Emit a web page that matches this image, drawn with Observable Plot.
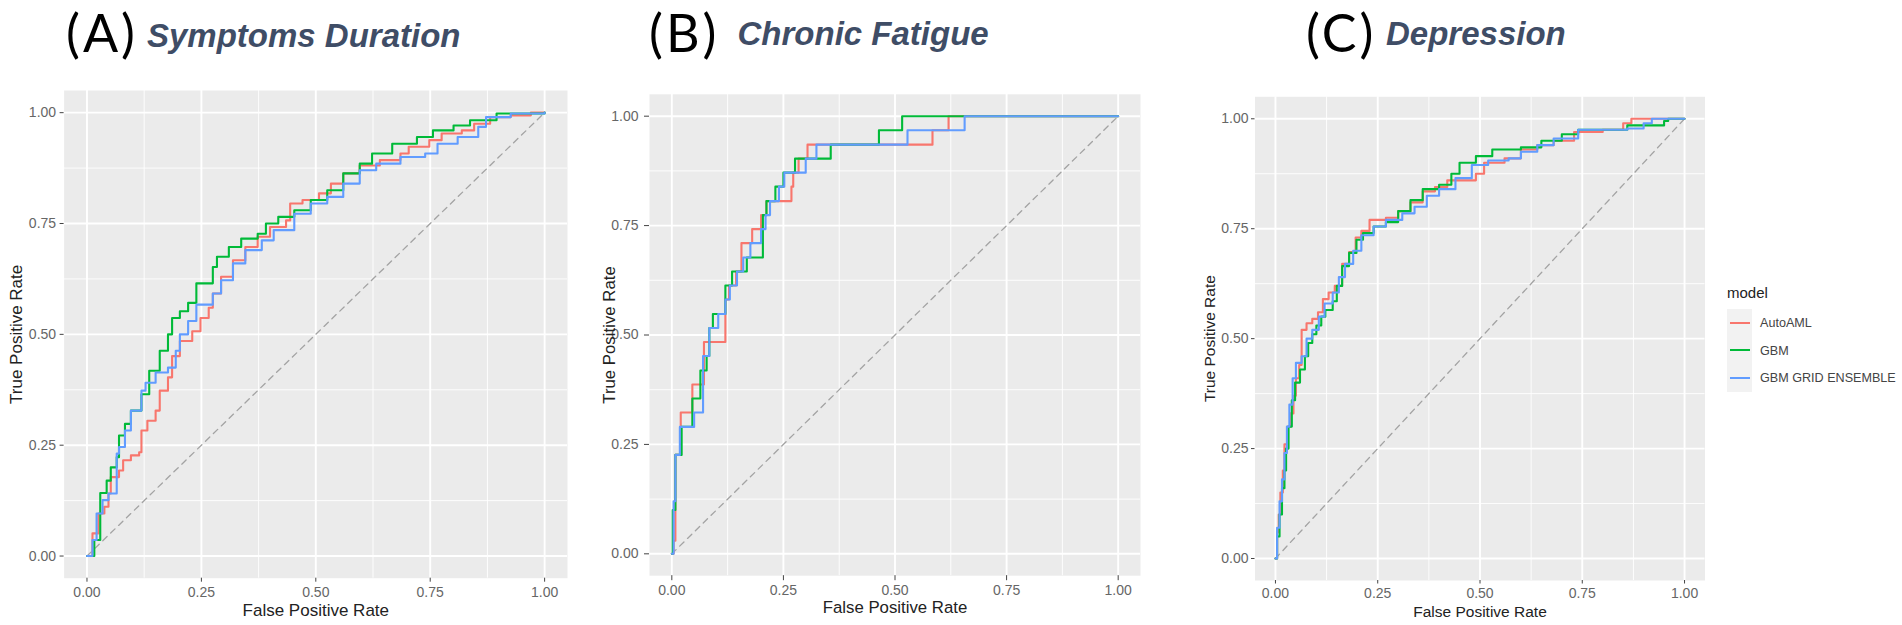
<!DOCTYPE html>
<html><head><meta charset="utf-8">
<script src="https://cdn.jsdelivr.net/npm/d3@7"></script>
<script src="https://cdn.jsdelivr.net/npm/@observablehq/plot@0.6"></script>
<style>
body{margin:0;width:1902px;height:625px;position:relative;background:#fff;overflow:hidden;font-family:"Liberation Sans",Arial,sans-serif}
.panel{position:absolute;top:80px}
.lab{position:absolute;font-family:Lato,"Open Sans",sans-serif;font-size:52px;line-height:1.2;color:#000;white-space:nowrap;letter-spacing:3px}
.nm{position:absolute;font-family:"Liberation Sans",Arial,sans-serif;font-weight:bold;font-style:italic;font-size:33px;line-height:1.2;color:#3f4d66;white-space:nowrap}
#legend{position:absolute;left:1727px;top:284px;font-family:"Liberation Sans",Arial,sans-serif}
#legend .lt{font-size:15px;line-height:18px;color:#222;height:25px}
#legend .row{position:relative;height:27.5px;width:180px}
#legend .key{position:absolute;left:0;top:0;width:25px;height:27.5px;background:#f2f2f2}
#legend .ln{position:absolute;left:3px;top:12.5px;width:20px;height:2.4px}
#legend .tx{position:absolute;left:33px;top:6px;font-size:12.6px;line-height:16px;color:#444;white-space:nowrap}
</style></head><body>
<div id="titles"></div>
<div id="pA" class="panel" style="left:0px"></div>
<div id="pB" class="panel" style="left:580px"></div>
<div id="pC" class="panel" style="left:1160px"></div>
<div id="legend"></div>
<script>
const models = ["AutoAML", "GBM", "GBM GRID ENSEMBLE"];
const modelColors = ["#F8766D", "#00BA38", "#619CFF"];
const majorTicks = [0, 0.25, 0.5, 0.75, 1];
const minorTicks = [0.125, 0.375, 0.625, 0.875];
const chanceLine = [0, 1];
const panelLetters = ["(A)", "(B)", "(C)"];
const panelTitles = ["Symptoms Duration", "Chronic Fatigue", "Depression"];
const xAxisTitle = "False Positive Rate";
const yAxisTitle = "True Positive Rate";
const legendTitle = "model";

// Panel A: Symptoms Duration  [FPR, TPR]
const symptomsAutoAML = [[0,0],[0.012,0.051],[0.025,0.096],[0.038,0.111],[0.047,0.141],[0.052,0.178],[0.07,0.193],[0.079,0.216],[0.096,0.227],[0.114,0.234],[0.119,0.283],[0.132,0.305],[0.15,0.328],[0.159,0.373],[0.177,0.403],[0.186,0.451],[0.203,0.485],[0.23,0.507],[0.248,0.537],[0.266,0.56],[0.275,0.592],[0.293,0.63],[0.319,0.667],[0.346,0.697],[0.373,0.72],[0.4,0.742],[0.435,0.757],[0.444,0.795],[0.471,0.803],[0.507,0.818],[0.533,0.84],[0.56,0.863],[0.596,0.881],[0.64,0.893],[0.685,0.908],[0.703,0.923],[0.748,0.938],[0.775,0.953],[0.819,0.96],[0.846,0.975],[0.881,0.99],[0.926,0.994],[0.97,1],[1,1]];
const symptomsGBM = [[0,0],[0.016,0.036],[0.029,0.142],[0.043,0.17],[0.052,0.2],[0.065,0.223],[0.07,0.272],[0.083,0.298],[0.096,0.328],[0.119,0.365],[0.136,0.418],[0.159,0.463],[0.177,0.5],[0.186,0.537],[0.203,0.552],[0.221,0.571],[0.239,0.615],[0.275,0.652],[0.284,0.675],[0.31,0.697],[0.337,0.716],[0.373,0.727],[0.391,0.75],[0.418,0.765],[0.453,0.78],[0.489,0.803],[0.525,0.825],[0.56,0.863],[0.596,0.885],[0.623,0.908],[0.667,0.93],[0.721,0.945],[0.756,0.96],[0.801,0.971],[0.837,0.983],[0.895,0.998],[1,1]];
const symptomsEnsemble = [[0,0],[0.012,0.036],[0.021,0.096],[0.034,0.126],[0.047,0.141],[0.065,0.231],[0.07,0.246],[0.083,0.283],[0.096,0.328],[0.119,0.373],[0.128,0.391],[0.15,0.414],[0.177,0.425],[0.194,0.463],[0.203,0.5],[0.221,0.53],[0.239,0.567],[0.275,0.592],[0.293,0.622],[0.319,0.66],[0.346,0.69],[0.382,0.712],[0.408,0.735],[0.453,0.772],[0.489,0.795],[0.525,0.81],[0.56,0.84],[0.596,0.87],[0.632,0.885],[0.685,0.9],[0.739,0.908],[0.766,0.93],[0.81,0.945],[0.855,0.968],[0.872,0.99],[0.926,0.998],[1,1]];

// Panel B: Chronic Fatigue  [FPR, TPR]
const fatigueAutoAML = [[0,0],[0.004,0.03],[0.008,0.226],[0.02,0.323],[0.046,0.387],[0.072,0.484],[0.12,0.581],[0.128,0.613],[0.144,0.645],[0.156,0.71],[0.18,0.742],[0.2,0.774],[0.212,0.806],[0.268,0.839],[0.272,0.871],[0.284,0.903],[0.304,0.935],[0.584,0.968],[0.62,1],[1,1]];
const fatigueGBM = [[0,0],[0.002,0.1],[0.008,0.226],[0.022,0.29],[0.046,0.355],[0.064,0.419],[0.078,0.452],[0.084,0.516],[0.092,0.548],[0.12,0.613],[0.135,0.645],[0.168,0.677],[0.204,0.774],[0.212,0.806],[0.232,0.839],[0.25,0.871],[0.276,0.903],[0.356,0.935],[0.464,0.968],[0.516,1],[1,1]];
const fatigueEnsemble = [[0,0],[0.004,0.12],[0.008,0.226],[0.018,0.29],[0.05,0.323],[0.07,0.452],[0.084,0.516],[0.104,0.548],[0.12,0.581],[0.13,0.613],[0.146,0.645],[0.16,0.677],[0.176,0.71],[0.2,0.742],[0.21,0.774],[0.22,0.806],[0.24,0.839],[0.252,0.871],[0.3,0.903],[0.324,0.935],[0.528,0.968],[0.656,1],[1,1]];

// Panel C: Depression  [FPR, TPR]
const depressionAutoAML = [[0,0],[0.004,0.06],[0.008,0.1],[0.012,0.15],[0.018,0.2],[0.022,0.26],[0.03,0.3],[0.036,0.33],[0.044,0.37],[0.05,0.41],[0.058,0.44],[0.064,0.52],[0.076,0.535],[0.09,0.545],[0.104,0.56],[0.116,0.59],[0.13,0.605],[0.145,0.62],[0.163,0.67],[0.18,0.697],[0.196,0.73],[0.21,0.745],[0.23,0.77],[0.27,0.775],[0.3,0.79],[0.33,0.81],[0.36,0.835],[0.39,0.845],[0.42,0.86],[0.46,0.86],[0.49,0.875],[0.51,0.9],[0.56,0.91],[0.6,0.93],[0.64,0.94],[0.68,0.95],[0.73,0.97],[0.8,0.975],[0.85,0.99],[0.87,1],[1,1]];
const depressionGBM = [[0,0],[0.004,0.05],[0.01,0.1],[0.016,0.16],[0.022,0.2],[0.026,0.25],[0.032,0.3],[0.04,0.36],[0.048,0.4],[0.06,0.43],[0.072,0.46],[0.08,0.49],[0.09,0.51],[0.1,0.53],[0.112,0.55],[0.122,0.565],[0.14,0.585],[0.15,0.62],[0.163,0.665],[0.18,0.695],[0.198,0.725],[0.214,0.74],[0.24,0.755],[0.27,0.765],[0.3,0.79],[0.33,0.815],[0.36,0.84],[0.4,0.85],[0.43,0.875],[0.45,0.9],[0.49,0.915],[0.53,0.93],[0.6,0.935],[0.65,0.95],[0.7,0.965],[0.74,0.975],[0.82,0.975],[0.86,0.985],[0.95,0.995],[0.96,1],[1,1]];
const depressionEnsemble = [[0,0],[0.004,0.07],[0.01,0.13],[0.016,0.18],[0.022,0.24],[0.028,0.3],[0.034,0.35],[0.042,0.41],[0.05,0.445],[0.064,0.46],[0.076,0.5],[0.09,0.52],[0.106,0.55],[0.12,0.58],[0.14,0.605],[0.155,0.64],[0.17,0.67],[0.19,0.7],[0.21,0.735],[0.24,0.755],[0.27,0.77],[0.31,0.785],[0.34,0.8],[0.37,0.825],[0.4,0.84],[0.44,0.865],[0.48,0.895],[0.52,0.905],[0.57,0.91],[0.6,0.925],[0.64,0.94],[0.68,0.955],[0.74,0.975],[0.8,0.975],[0.86,0.978],[0.9,0.99],[0.92,1],[1,1]];

function rows(series) {
  return models.flatMap((m, i) => series[i].map(([fpr, tpr]) => ({model: m, fpr, tpr})));
}

function panel(series, o) {
  return Plot.plot({
    width: o.width, height: 545,
    marginTop: o.mt, marginRight: o.mr, marginBottom: o.mb, marginLeft: o.ml,
    x: {domain: [-0.05, 1.05]},
    y: {domain: [-0.05, 1.05]},
    color: {domain: models, range: modelColors},
    style: {fontFamily: '"Liberation Sans", Arial, sans-serif', background: "transparent", overflow: "visible"},
    marks: [
      Plot.frame({fill: "#ebebeb", stroke: "none"}),
      Plot.gridX(minorTicks, {stroke: "#fff", strokeOpacity: 1, strokeWidth: 0.9}),
      Plot.gridY(minorTicks, {stroke: "#fff", strokeOpacity: 1, strokeWidth: 0.9}),
      Plot.gridX(majorTicks, {stroke: "#fff", strokeOpacity: 1, strokeWidth: 1.9}),
      Plot.gridY(majorTicks, {stroke: "#fff", strokeOpacity: 1, strokeWidth: 1.9}),
      Plot.axisX(majorTicks, {tickFormat: d3.format(".2f"), tickSize: o.ts, tickPadding: o.tpx, fontSize: 14, fill: "#666", stroke: "#444", label: null}),
      Plot.axisY(majorTicks, {tickFormat: d3.format(".2f"), tickSize: o.ts, tickPadding: o.tpy, fontSize: 14, fill: "#666", stroke: "#444", label: null}),
      Plot.line(chanceLine, {x: d => d, y: d => d, stroke: "#a3a3a3", strokeWidth: 1.3, strokeDasharray: "6,5"}),
      Plot.line(rows(series), {x: "fpr", y: "tpr", stroke: "model", strokeWidth: 2.1, curve: "step-after"}),
      Plot.text([xAxisTitle], {text: d => d, frameAnchor: "bottom", dy: o.xdy, fontSize: o.fs, fill: "#222", lineAnchor: "middle", textAnchor: "middle"}),
      Plot.text([yAxisTitle], {text: d => d, frameAnchor: "left", dx: o.ydx, rotate: -90, fontSize: o.fs, fill: "#222", lineAnchor: "middle", textAnchor: "middle"})
    ]
  });
}

document.getElementById("pA").append(panel([symptomsAutoAML, symptomsGBM, symptomsEnsemble],
  {width: 575, mt: 10, mr: 8, mb: 47.3, ml: 63.6, ts: 4, tpx: 5, tpy: 4, xdy: 32.3, ydx: -47.6, fs: 17}));
document.getElementById("pB").append(panel([fatigueAutoAML, fatigueGBM, fatigueEnsemble],
  {width: 570, mt: 13.8, mr: 10, mb: 49.8, ml: 69, ts: 5, tpx: 4, tpy: 6, xdy: 31.8, ydx: -40, fs: 16.8}));
document.getElementById("pC").append(panel([depressionAutoAML, depressionGBM, depressionEnsemble],
  {width: 550, mt: 16.3, mr: 5.5, mb: 45, ml: 94.5, ts: 3.5, tpx: 4, tpy: 3, xdy: 31.7, ydx: -44.5, fs: 15.5}));

// Titles
const titleLayout = [
  {lab: 66, nm: 147, labTop: 1, nmTop: 19},
  {lab: 649, nm: 737.5, labTop: 1, nmTop: 17},
  {lab: 1306, nm: 1386, labTop: 1, nmTop: 17}
];
const tDiv = document.getElementById("titles");
panelLetters.forEach((l, i) => {
  const a = document.createElement("div");
  a.className = "lab"; a.textContent = l;
  a.style.left = titleLayout[i].lab + "px"; a.style.top = titleLayout[i].labTop + "px";
  const b = document.createElement("div");
  b.className = "nm"; b.textContent = panelTitles[i];
  b.style.left = titleLayout[i].nm + "px"; b.style.top = (titleLayout[i].nmTop - 3) + "px";
  tDiv.append(a, b);
});

// Legend
const lg = document.getElementById("legend");
const lt = document.createElement("div"); lt.className = "lt"; lt.textContent = legendTitle; lg.append(lt);
models.forEach((m, i) => {
  const r = document.createElement("div"); r.className = "row";
  const k = document.createElement("div"); k.className = "key";
  const ln = document.createElement("div"); ln.className = "ln"; ln.style.background = modelColors[i];
  k.append(ln);
  const t = document.createElement("div"); t.className = "tx"; t.textContent = m;
  r.append(k, t); lg.append(r);
});
</script>
</body></html>
